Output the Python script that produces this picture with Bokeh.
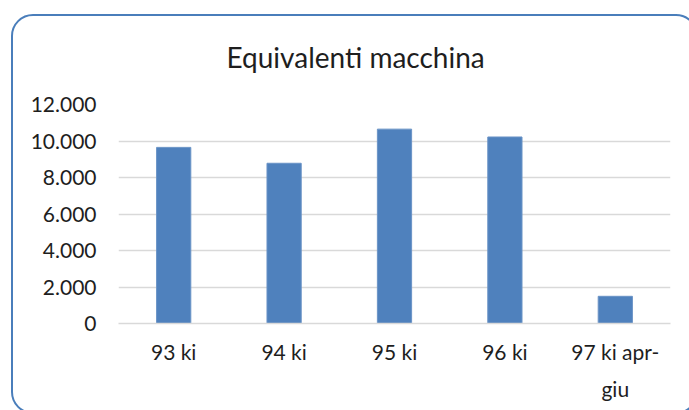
from bokeh.plotting import figure
from bokeh.models import FactorRange, Range1d, FixedTicker, ColumnDataSource, InlineStyleSheet
from bokeh.embed import file_html
from bokeh.resources import INLINE

# Machine equivalents per period
categories = ["93 ki", "94 ki", "95 ki", "96 ki", "97 ki apr-giu"]
values = [9650, 8780, 10650, 10220, 1490]

# Axis ticks and their labels
y_ticks = [0, 2000, 4000, 6000, 8000, 10000, 12000]
y_tick_labels = ["0", "2.000", "4.000", "6.000", "8.000", "10.000", "12.000"]
# Category labels split over two lines (second line blank where unused)
x_label_line1 = ["93 ki", "94 ki", "95 ki", "96 ki", "97 ki apr-"]
x_label_line2 = [" ", "  ", "   ", "    ", "giu"]

FONT = "Lato"
TEXT = "#1e1e1e"
GRID = "#d9d9d9"
BAR = "#4f81bd"
EDGE = "#4a7ebb"

factors = list(zip(x_label_line2, x_label_line1))
source = ColumnDataSource(data=dict(cat=factors, val=values, name=categories))

p = figure(
    width=689, height=410,
    x_range=FactorRange(factors=factors, range_padding=0, group_padding=0,
                        factor_padding=0),
    y_range=Range1d(0, 12000),
    output_backend="svg", toolbar_location=None,
    min_border_left=118, min_border_right=19,
    min_border_top=104, min_border_bottom=87,
)
p.background_fill_color = "white"
p.border_fill_color = "white"
p.outline_line_color = None

p.vbar(x="cat", top="val", width=0.31, source=source,
       fill_color=BAR, line_color="#6a93c6", line_width=1)

# Title
p.title.text = "Equivalenti macchina"
p.title.text_font = FONT
p.title.text_font_size = "28px"
p.title.text_font_style = "normal"
p.title.text_color = TEXT
p.title.align = "left"
p.title.offset = 108
p.title.standoff = 61

# Y axis
p.yaxis.ticker = FixedTicker(ticks=y_ticks)
p.yaxis.major_label_overrides = {t: l for t, l in zip(y_ticks, y_tick_labels)}
p.yaxis.axis_line_color = None
p.yaxis.major_tick_line_color = None
p.yaxis.minor_tick_line_color = None
p.yaxis.major_label_standoff = 16
p.yaxis.major_label_text_font = FONT
p.yaxis.major_label_text_font_size = "21px"
p.yaxis.major_label_text_color = TEXT

# X axis
xa = p.xaxis[0]
xa.axis_line_color = GRID
xa.axis_line_width = 1.5
xa.major_tick_line_color = None
xa.minor_tick_line_color = None
xa.major_label_standoff = 9
xa.major_label_text_font = FONT
xa.major_label_text_font_size = "21px"
xa.major_label_text_color = TEXT
xa.group_text_font = FONT
xa.group_text_font_size = "21px"
xa.group_text_font_style = "normal"
xa.group_text_color = TEXT
xa.separator_line_color = None

# Grid
p.xgrid.grid_line_color = None
p.ygrid.grid_line_color = GRID
p.ygrid.grid_line_width = 1.5

# Rounded chart border around the whole chart area
p.stylesheets = [InlineStyleSheet(css="""
:host { position: relative; overflow: hidden; }
:host::after {
  content: "";
  position: absolute;
  left: 10.5px; top: 14px; right: -9px; bottom: -4px;
  width: auto; height: auto; max-width: none; max-height: none;
  box-sizing: border-box;
  border: 2.5px solid #4a7ebb;
  border-radius: 22px;
  pointer-events: none;
}
""")]

open("out.html", "w").write(file_html(p, INLINE))
